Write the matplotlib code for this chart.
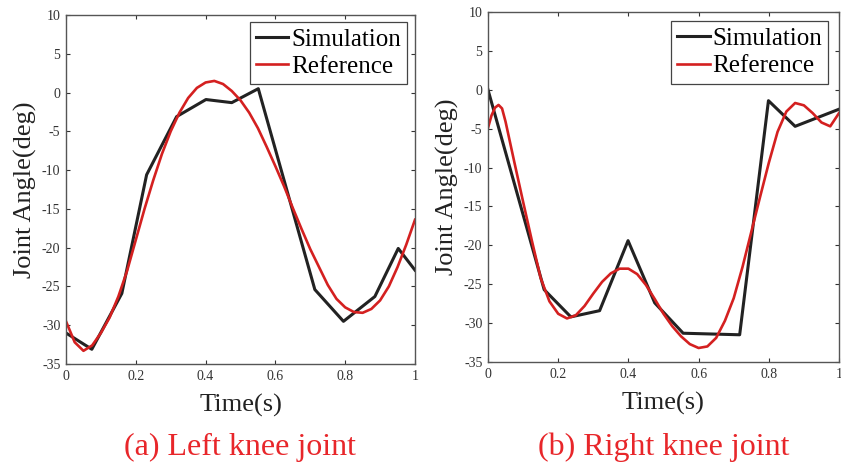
import matplotlib
matplotlib.use("Agg")
import matplotlib.pyplot as plt

plt.rcParams['font.family'] = ['Liberation Serif', 'DejaVu Serif']
plt.rcParams['axes.unicode_minus'] = False

# left knee joint
t_sim_left = [0, 0.074, 0.16, 0.231, 0.317, 0.401, 0.475, 0.551, 0.713, 0.795, 0.885, 0.952, 1.0]
sim_left = [-31.0, -33.1, -25.9, -10.6, -3.1, -0.9, -1.3, 0.5, -25.4, -29.5, -26.3, -20.1, -22.9]

t_ref_left = [0, 0.025, 0.05, 0.075, 0.1, 0.125, 0.15, 0.175, 0.2, 0.225,
              0.25, 0.275, 0.3, 0.325, 0.35, 0.375, 0.4, 0.425, 0.45, 0.475,
              0.5, 0.525, 0.55, 0.575, 0.6, 0.625, 0.65, 0.675, 0.7, 0.725,
              0.75, 0.775, 0.8, 0.825, 0.85, 0.875, 0.9, 0.925, 0.95, 0.975, 1.0]
ref_left = [-29.5, -32.2, -33.3, -32.6, -31.0, -29.0, -26.3, -23.0, -19.0, -15.0,
            -11.3, -7.9, -5.0, -2.6, -0.7, 0.6, 1.3, 1.5, 1.1, 0.2,
            -1.0, -2.6, -4.6, -7.0, -9.5, -12.1, -14.9, -17.6, -20.2, -22.5,
            -24.8, -26.6, -27.7, -28.3, -28.4, -27.9, -26.8, -25.0, -22.5, -19.6,
            -16.4]

# right knee joint
t_sim_right = [0, 0.16, 0.236, 0.318, 0.399, 0.475, 0.556, 0.717, 0.799, 0.875, 1.0]
sim_right = [0.0, -25.7, -29.2, -28.4, -19.4, -27.4, -31.3, -31.5, -1.4, -4.7, -2.5]

t_ref_right = [0, 0.01, 0.02, 0.03, 0.04, 0.05, 0.0625, 0.075, 0.1, 0.125,
               0.15, 0.175, 0.2, 0.225, 0.25, 0.275, 0.3, 0.325, 0.35, 0.375,
               0.4, 0.425, 0.45, 0.475, 0.5, 0.525, 0.55, 0.575, 0.6, 0.625,
               0.65, 0.675, 0.7, 0.725, 0.75, 0.775, 0.8, 0.825, 0.85, 0.875,
               0.9, 0.925, 0.95, 0.975, 1.0]
ref_right = [-4.9, -3.3, -2.3, -1.95, -2.4, -4.1, -6.7, -9.3, -14.4, -19.4,
             -24.2, -27.2, -28.8, -29.4, -29.0, -27.8, -26.2, -24.7, -23.6, -23.0,
             -23.0, -23.7, -25.1, -26.9, -28.8, -30.4, -31.7, -32.7, -33.2, -33.0,
             -31.9, -29.7, -26.8, -22.8, -18.3, -13.8, -9.4, -5.4, -2.8, -1.7,
             -2.0, -3.0, -4.2, -4.7, -3.0]

captions = ["(a) Left knee joint", "(b) Right knee joint"]
yticks = [10, 5, 0, -5, -10, -15, -20, -25, -30, -35]
xticks = [0, 0.2, 0.4, 0.6, 0.8, 1]
xticklabels = ["0", "0.2", "0.4", "0.6", "0.8", "1"]

fig = plt.figure(figsize=(8.41, 4.70), dpi=100)
axL = fig.add_axes([66/841, 1-364/470, 349/841, 349/470])
axR = fig.add_axes([488/841, 1-362/470, 351/841, 350/470])

panels = [(axL, t_sim_left, sim_left, t_ref_left, ref_left, (0.977, 0.98)),
          (axR, t_sim_right, sim_right, t_ref_right, ref_right, (0.969, 0.974))]

for i, (ax, ts, sim, tr, ref, anchor) in enumerate(panels):
    ax.plot(ts, sim, color='#222222', lw=2.2, label='Simulation')
    ax.plot(tr, ref, color='#d42020', lw=1.9, label='Reference')
    ax.set_xlim(0, 1)
    ax.set_ylim(-35, 10)
    ax.set_yticks(yticks)
    ax.set_yticklabels([str(v) for v in yticks])
    ax.set_xticks(xticks)
    ax.set_xticklabels(xticklabels)
    ax.tick_params(direction='in', length=3, width=0.8, top=True, right=True,
                   labelsize=10, pad=4, colors='#333333')
    for s in ax.spines.values():
        s.set_color('#555555')
        s.set_linewidth(1.0)
    ax.set_ylabel('Joint Angle(deg)', fontsize=19, color='#222222')
    ax.yaxis.set_label_coords(-0.083, 0.5)
    ax.set_xlabel('Time(s)', fontsize=19, color='#222222')
    ax.xaxis.set_label_coords(0.5, -0.085)
    leg = ax.legend(loc='upper right', bbox_to_anchor=anchor, fontsize=18,
                    handlelength=1.3, handletextpad=0.1, labelspacing=0.2,
                    borderpad=0.25, borderaxespad=0, fancybox=False, framealpha=1)
    leg.get_frame().set_edgecolor('#444444')
    leg.get_frame().set_linewidth(0.9)
    cx = (ax.get_position().x0 + ax.get_position().x1) / 2
    fig.text(cx, 1-447/470, captions[i], color='#e8262a', fontsize=23,
             ha='center', va='center')

fig.savefig('out.png', dpi=100)
